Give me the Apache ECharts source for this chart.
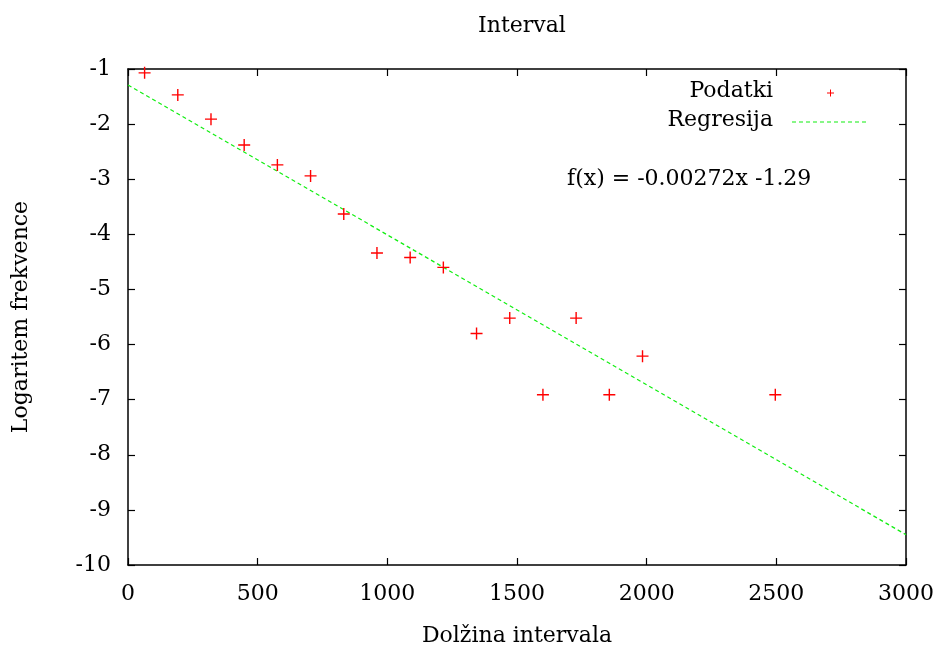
<!DOCTYPE html>
<html>
<head>
<meta charset="utf-8">
<script src="https://cdn.jsdelivr.net/npm/echarts@6/dist/echarts.min.js"></script>
<style>
  html, body { margin: 0; padding: 0; background: #fff; }
  #chart { width: 940px; height: 649px; }
</style>
</head>
<body>
<div id="chart"></div>
<script>
// bin centres (interval length) and log frequency
const lengths = [64, 192, 320, 448, 576, 704, 832, 960, 1088, 1216, 1344, 1472, 1600, 1728, 1856, 1984, 2496];
const logFreq = [-1.07, -1.47, -1.91, -2.38, -2.74, -2.94, -3.63, -4.34, -4.42, -4.60, -5.80, -5.52, -6.91, -5.52, -6.91, -6.21, -6.91];
// regression line endpoints, f(x) = -0.00272x - 1.29
const fitX = [0, 3000];
const fitY = [-1.29, -9.45];

const xTicks = [0, 500, 1000, 1500, 2000, 2500, 3000];
const yTicks = [-1, -2, -3, -4, -5, -6, -7, -8, -9, -10];

const font = '"DejaVu Serif", "Liberation Serif", serif';
const fs = 22;
const plus = 'path://M5.3,0H6.7V5.3H12V6.7H6.7V12H5.3V6.7H0V5.3H5.3Z';

const chart = echarts.init(document.getElementById('chart'));

const axisCommon = {
  type: 'value',
  axisLine: { show: true, onZero: false, lineStyle: { color: '#000', width: 1.5 } },
  axisTick: { show: true, inside: true, length: 7, lineStyle: { color: '#000', width: 1.2 } },
  splitLine: { show: false }
};

chart.setOption({
  backgroundColor: '#fff',
  animation: false,
  textStyle: { fontFamily: font },
  title: {
    text: 'Interval',
    left: 517, top: 10,
    textAlign: 'center',
    textStyle: { fontFamily: font, fontWeight: 'normal', fontSize: fs, color: '#000' }
  },
  grid: { left: 128, right: 34, top: 69, bottom: 84, containLabel: false, outerBoundsMode: 'none' },
  xAxis: [
    Object.assign({}, axisCommon, {
      min: xTicks[0], max: xTicks[xTicks.length - 1], interval: 500,
      position: 'bottom',
      name: 'Dolžina intervala', nameLocation: 'middle', nameGap: 60,
      nameTextStyle: { fontFamily: font, fontSize: fs, color: '#000' },
      axisLabel: { margin: 18, fontFamily: font, fontSize: fs, color: '#000', formatter: v => String(v) }
    }),
    Object.assign({}, axisCommon, {
      min: xTicks[0], max: xTicks[xTicks.length - 1], interval: 500,
      position: 'top',
      axisLabel: { show: false }
    })
  ],
  yAxis: [
    Object.assign({}, axisCommon, {
      min: yTicks[yTicks.length - 1], max: yTicks[0], interval: 1,
      position: 'left',
      name: 'Logaritem frekvence', nameLocation: 'middle', nameGap: 96,
      nameTextStyle: { fontFamily: font, fontSize: fs, color: '#000' },
      axisLabel: { margin: 17, fontFamily: font, fontSize: fs, color: '#000', formatter: v => String(v) }
    }),
    Object.assign({}, axisCommon, {
      min: yTicks[yTicks.length - 1], max: yTicks[0], interval: 1,
      position: 'right',
      axisLabel: { show: false }
    })
  ],
  series: [
    {
      name: 'Regresija',
      type: 'line',
      data: fitX.map((x, i) => [x, fitY[i]]),
      symbol: 'none',
      lineStyle: { color: '#11ee11', width: 1.2, type: [4, 3] },
      z: 2
    },
    {
      name: 'Podatki',
      type: 'scatter',
      data: lengths.map((x, i) => [x, logFreq[i]]),
      symbol: plus,
      symbolSize: 12,
      itemStyle: { color: '#ff0000', opacity: 1 },
      z: 3
    }
  ],
  graphic: [
    { type: 'text', right: 940 - 773, top: 80,
      style: { text: 'Podatki', fontFamily: font, fontSize: fs, fill: '#000', textAlign: 'right' } },
    { type: 'text', right: 940 - 773, top: 109,
      style: { text: 'Regresija', fontFamily: font, fontSize: fs, fill: '#000', textAlign: 'right' } },
    { type: 'line', shape: { x1: 827, y1: 93, x2: 834, y2: 93 }, style: { stroke: '#ff0000', lineWidth: 1 } },
    { type: 'line', shape: { x1: 830.5, y1: 89.5, x2: 830.5, y2: 96.5 }, style: { stroke: '#ff0000', lineWidth: 1 } },
    { type: 'line', shape: { x1: 792, y1: 122, x2: 869, y2: 122 },
      style: { stroke: '#11ee11', lineWidth: 1.2, lineDash: [4, 3] } },
    { type: 'text', left: 567, top: 168,
      style: { text: 'f(x) = -0.00272x -1.29', fontFamily: font, fontSize: fs, fill: '#000' } }
  ]
});
</script>
</body>
</html>
